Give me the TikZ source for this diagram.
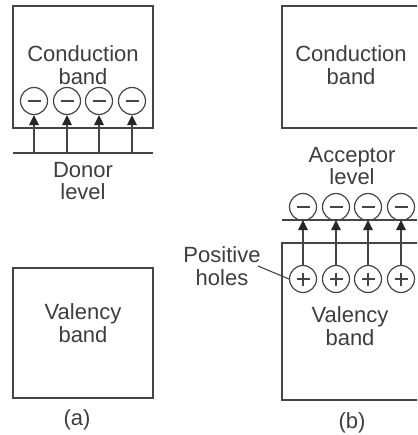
\documentclass[tikz,border=0pt]{standalone}
\usepackage{fontspec}
\setmainfont{Liberation Sans}
\usetikzlibrary{arrows.meta}
\definecolor{ink}{HTML}{454545}
\begin{document}
\begin{tikzpicture}[x=1pt,y=-1pt,
  ink/.style={draw=ink, line width=1.4pt},
  band/.style={ink},
  lbl/.style={align=center, font=\fontsize{22}{22.5}\selectfont, text=ink!90!black, inner sep=0pt},
  elec/.style={circle, ink, line width=1.2pt, minimum size=27pt, inner sep=0pt,
    path picture={\draw[draw=ink, line width=1.2pt] ([xshift=7pt]path picture bounding box.west) -- ([xshift=-7pt]path picture bounding box.east);}},
  hole/.style={elec, path picture={\draw[draw=ink, line width=1.2pt] ([xshift=7pt]path picture bounding box.west) -- ([xshift=-7pt]path picture bounding box.east) ([yshift=-7pt]path picture bounding box.north) -- ([yshift=7pt]path picture bounding box.south);}},
  arr/.style={ink, line width=1.3pt, -{Triangle[length=10pt,width=9.5pt,color=black!85]}},
  lead/.style={ink, line width=1.1pt}]
\path[use as bounding box, clip] (0,0) rectangle (417,435);
\fill[white] (0,0) rectangle (417,435);
% ---------- (a) ----------
\draw[band] (13,6) rectangle (153,128);
\node[lbl] (cba) at (83,65) {Conduction\\band};
\draw[band] (13,268) rectangle (153,398);
\node[lbl] (vba) at (83,323) {Valency\\band};
\coordinate (dl) at (13,153);
\coordinate (dr) at (153,153);
\draw[ink] (dl) -- (dr);
\node[lbl] (don) at (83,181) {Donor\\level};
\foreach \i/\x in {1/34,2/67,3/99,4/132}{
  \node[elec] (m\i) at (\x,101) {};
  \draw[arr] (m\i |- dl) -- (m\i.south);
}
\node[lbl] (capa) at (77,420) {(a)};
% ---------- (b) ----------
\draw[band] (282,6) rectangle (430,128);
\node[lbl] (cbb) at (351,65) {Conduction\\band};
\node[lbl] (acc) at (352,166) {Acceptor\\level};
\coordinate (al) at (282,220);
\coordinate (ar) at (420,220);
\draw[ink] (al) -- (ar);
\draw[band] (282,243) rectangle (430,400);
\foreach \i/\x in {1/303,2/336,3/368,4/401}{
  \node[elec] (a\i) at (\x,207) {};
  \node[hole] (h\i) at (\x,279) {};
  \draw[arr] (h\i.north) -- (h\i |- al);
}
\node[lbl] (vbb) at (350,326) {Valency\\band};
\node[lbl] (pos) at (222,266) {Positive\\holes};
\draw[lead] (258,266) -- (h1.west);
\node[lbl] (capb) at (352,423) {(b)};
\end{tikzpicture}
\end{document}
